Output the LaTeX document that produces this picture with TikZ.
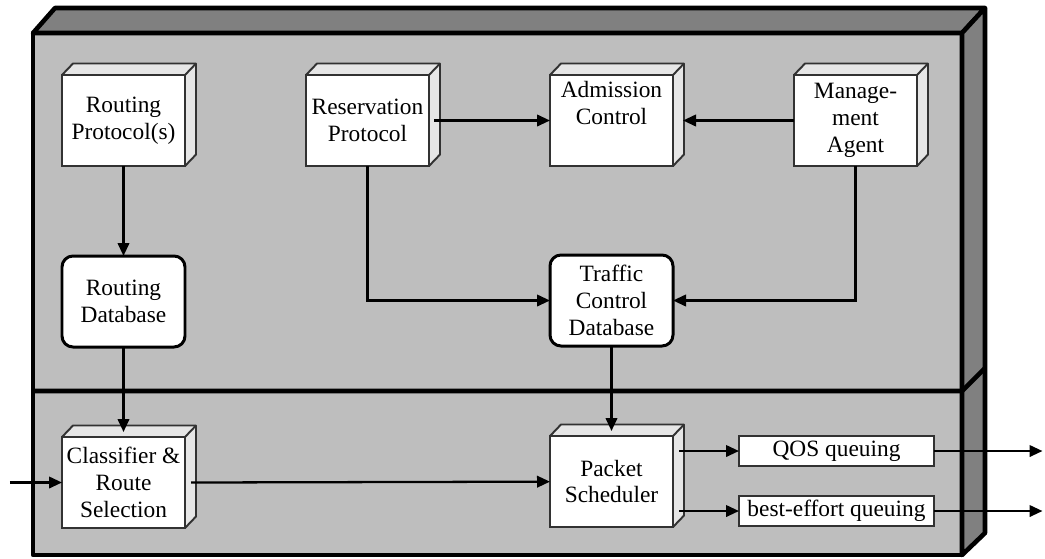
\documentclass[tikz,border=0pt]{standalone}
\usepackage{fontspec}
\setmainfont{Liberation Serif}
\usetikzlibrary{positioning, arrows.meta}
\definecolor{panelgray}{RGB}{190,190,190}
\definecolor{edgegray}{RGB}{128,128,128}
\definecolor{facegray}{RGB}{230,230,230}
\definecolor{boxline}{RGB}{50,50,50}

\begin{document}
\begin{tikzpicture}[
    node distance=1.8cm and 2.42cm,
    every node/.style={
        align=center,
        font=\fontsize{13.3}{15.3}\selectfont,
        fill=white,
        outer sep=0pt,
        inner sep=1pt
    },
    cube/.style={draw=boxline, line width=1.1pt, minimum width=2.46cm, minimum height=1.82cm},
    db/.style={draw, line width=1.7pt, rounded corners=0.22cm, minimum width=2.46cm, minimum height=1.82cm},
    queue/.style={draw=boxline, line width=1pt, minimum width=3.9cm, minimum height=0.6cm},
    face/.style={fill=facegray, draw=boxline, line width=1.1pt, line join=round},
    frame/.style={line width=2.6pt, line join=round},
    arrow/.style={-{Triangle[length=2.6mm,width=2.3mm]}, line width=1.3pt}
]

% backdrop
\useasboundingbox (0,0) rectangle (20.9,-11.16);
\fill[panelgray] (0.66,-0.66) rectangle (19.24,-11.1);
\filldraw[fill=edgegray, draw=black, frame] (0.66,-0.66) -- (1.10,-0.16) -- (19.70,-0.16) -- (19.24,-0.66) -- cycle;
\filldraw[fill=edgegray, draw=black, frame] (19.24,-0.66) -- (19.70,-0.16) -- (19.70,-10.66) -- (19.24,-11.1) -- cycle;
\draw[frame] (0.66,-0.66) rectangle (19.24,-11.1);
\draw[frame] (0.66,-7.82) -- (19.24,-7.82) -- (19.70,-7.36);

\node[cube] (rproto) at (2.47,-2.41) {Routing\\Protocol(s)};
\node[cube, right=of rproto] (resv) {Reservation\\Protocol};
\node[cube, right=of resv] (adm) {Admission\\Control\\\strut};
\node[cube, right=of adm] (mgmt) {Manage-\\ment\\Agent};
\node[db, below=of rproto] (rdb) {Routing\\Database};
\node[cube, below=of rdb] (classify) {Classifier \&\\Route\\Selection};
\node[db, below=1.78cm of adm] (tcd) {Traffic\\Control\\Database};
\node[cube, below=of tcd] (sched) {Packet\\Scheduler};
\node[queue, anchor=north west] (qos) at ([xshift=1.32cm]sched.north east) {QOS queuing};
\node[queue, below=0.6cm of qos] (besteff) {best-effort queuing};

% 3d faces
\foreach \n in {rproto,resv,adm,mgmt,classify,sched}{
  \filldraw[face] (\n.north west) -- ++(0.22,0.23) -- ([shift={(0.22,0.23)}]\n.north east)
    -- ([shift={(0.22,0.23)}]\n.south east) -- (\n.south east) -- (\n.north east) -- cycle;
  \draw[boxline, line width=1.1pt] (\n.north east) -- ++(0.22,0.23);
}

\coordinate (pktin) at (0.2,0 |- classify.west);
\coordinate (qosout) at (20.85,0 |- qos.east);
\coordinate (beout) at (20.85,0 |- besteff.east);

\draw[arrow] (rproto) -- (rdb);
\draw[arrow] (rdb) -- ([yshift=0.1cm]classify.north);
\draw[arrow] ([xshift=0.1cm]resv.east) -- (adm);
\draw[arrow] (mgmt) -- ([xshift=0.2cm]adm.east);
\draw[arrow] (resv) |- (tcd);
\draw[arrow] (mgmt) |- (tcd);
\draw[arrow] (tcd) -- ([yshift=0.1cm]sched.north);
\draw[arrow] (pktin) -- (classify);
\draw[arrow] ([xshift=0.12cm]classify.east) -- (sched);
\draw[arrow] ([xshift=0.12cm]sched.east |- qos.west) -- (qos.west);
\draw[arrow] ([xshift=0.12cm]sched.east |- besteff.west) -- (besteff.west);
\draw[arrow] (qos) -- (qosout);
\draw[arrow] (besteff) -- (beout);

\end{tikzpicture}
\end{document}
